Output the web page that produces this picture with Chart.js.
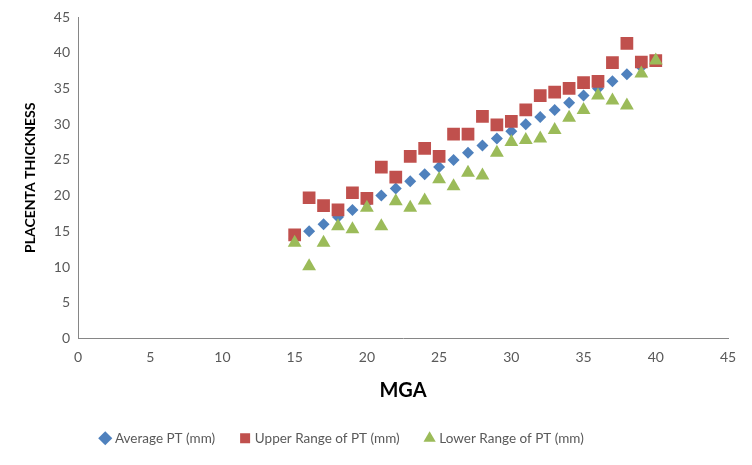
<!DOCTYPE html>
<html>
<head>
<meta charset="utf-8">
<script src="https://cdn.jsdelivr.net/npm/chart.js@4/dist/chart.umd.min.js"></script>
<style>
  html, body { margin: 0; padding: 0; background: #fff; }
  #wrap { width: 752px; height: 465px; }
</style>
</head>
<body>
<div id="wrap"><canvas id="ptChart"></canvas></div>
<script>
// MGA (weeks)
const mga = [15, 16, 17, 18, 19, 20, 21, 22, 23, 24, 25, 26, 27, 28, 29, 30, 31, 32, 33, 34, 35, 36, 37, 38, 39, 40];
const averagePT = [14, 15, 16, 17, 18, 19, 20, 21, 22, 23, 24, 25, 26, 27, 28, 29, 30, 31, 32, 33, 34, 35, 36, 37, 38, 39];
const upperPT = [14.5, 19.7, 18.6, 18, 20.4, 19.6, 24, 22.6, 25.5, 26.6, 25.5, 28.6, 28.6, 31.1, 29.9, 30.4, 32, 34, 34.5, 35, 35.8, 36, 38.6, 41.3, 38.7, 38.9];
const lowerPT = [13.4, 10.1, 13.4, 15.7, 15.3, 18.3, 15.7, 19.2, 18.3, 19.3, 22.3, 21.3, 23.2, 22.8, 26, 27.5, 27.8, 28, 29.2, 30.9, 32, 34, 33.3, 32.6, 37.1, 38.9];
const axisTicks = [0, 5, 10, 15, 20, 25, 30, 35, 40, 45];

const toXY = (ys) => mga.map((x, i) => ({ x: x, y: ys[i] }));

const FONT = 'Lato, "Open Sans", sans-serif';
const TXT = '#595959';

// legend in the original sits a bit left of centre
const legendShift = {
    id: 'legendShift',
    afterLayout(chart) {
        chart.legend.left -= 21;
        chart.legend.right -= 21;
    }
};

new Chart(document.getElementById('ptChart').getContext('2d'), {
    type: 'scatter',
    data: {
        datasets: [
            {
                label: 'Average PT (mm)',
                data: toXY(averagePT),
                pointStyle: 'rectRot',
                pointRadius: 6,
                backgroundColor: '#4F81BD',
                borderColor: '#4F81BD',
                borderWidth: 0,
                order: 3
            },
            {
                label: 'Upper Range of PT (mm)',
                data: toXY(upperPT),
                pointStyle: 'rect',
                pointRadius: 9,
                backgroundColor: '#C0504D',
                borderColor: '#C0504D',
                borderWidth: 0,
                order: 2
            },
            {
                label: 'Lower Range of PT (mm)',
                data: toXY(lowerPT),
                pointStyle: 'triangle',
                pointRadius: 8,
                backgroundColor: '#9BBB59',
                borderColor: '#9BBB59',
                borderWidth: 0,
                order: 1
            }
        ]
    },
    options: {
        responsive: true,
        maintainAspectRatio: false,
        animation: false,
        layout: { padding: { left: 0, right: 24, top: 17, bottom: 10 } },
        scales: {
            x: {
                type: 'linear',
                min: 0,
                max: 45,
                afterBuildTicks: (s) => { s.ticks = axisTicks.map(v => ({ value: v })); },
                afterFit: (s) => { s.height = 66; },
                grid: { display: false, drawTicks: false },
                border: { display: true, color: '#868686', width: 1 },
                ticks: { color: TXT, padding: 11, font: { family: FONT, size: 14 } },
                title: {
                    display: true,
                    text: 'MGA',
                    color: '#000',
                    padding: { top: 0, bottom: 2 },
                    font: { family: FONT, size: 20, weight: 'bold' }
                }
            },
            y: {
                type: 'linear',
                min: 0,
                max: 45,
                afterBuildTicks: (s) => { s.ticks = axisTicks.map(v => ({ value: v })); },
                afterFit: (s) => { s.width = 78; },
                grid: { display: false, drawTicks: false },
                border: { display: true, color: '#868686', width: 1 },
                ticks: { color: TXT, padding: 8, font: { family: FONT, size: 14 } },
                title: {
                    display: true,
                    text: 'PLACENTA THICKNESS',
                    color: '#000',
                    padding: { top: 22, bottom: 0 },
                    font: { family: FONT, size: 14, weight: 'bold' }
                }
            }
        },
        plugins: {
            legend: {
                position: 'bottom',
                labels: {
                    usePointStyle: true,
                    boxWidth: 6,
                    boxHeight: 10,
                    padding: 27,
                    color: TXT,
                    font: { family: FONT, size: 13.5 },
                    sort: (a, b) => a.datasetIndex - b.datasetIndex
                }
            },
            tooltip: { enabled: false }
        }
    },
    plugins: [legendShift]
});
</script>
</body>
</html>
